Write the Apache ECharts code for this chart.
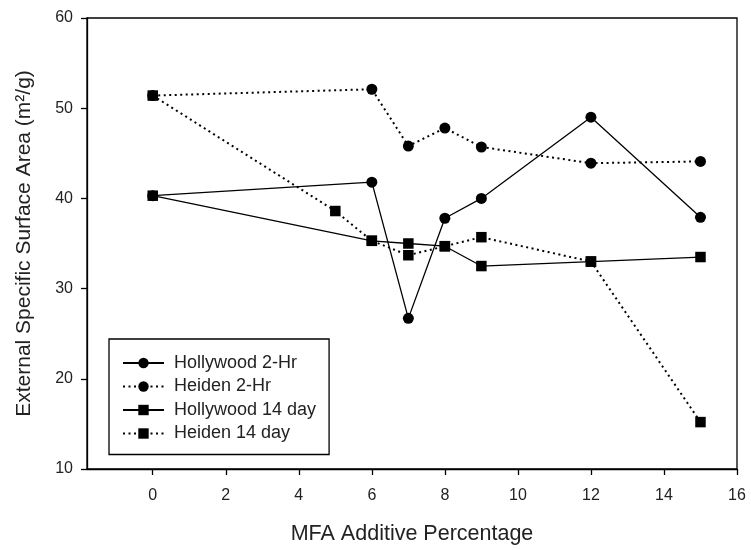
<!DOCTYPE html>
<html>
<head>
<meta charset="utf-8">
<script src="https://cdn.jsdelivr.net/npm/echarts@6/dist/echarts.min.js"></script>
<style>html,body{margin:0;padding:0;background:#fff}#c{width:751px;height:550px}</style>
</head>
<body>
<div id="c"></div>
<script>
const xTicks = [0, 2, 4, 6, 8, 10, 12, 14, 16];
const seriesNames = ['Hollywood 2-Hr', 'Heiden 2-Hr', 'Hollywood 14 day', 'Heiden 14 day'];
const xHollywood2Hr = [0, 6, 7, 8, 9, 12, 15];
const hollywood2Hr = [40.3, 41.8, 26.7, 37.8, 40.0, 49.0, 37.9];
const xHeiden2Hr = [0, 6, 7, 8, 9, 12, 15];
const heiden2Hr = [51.4, 52.1, 45.8, 47.8, 45.7, 43.9, 44.1];
const xHollywood14 = [0, 6, 7, 8, 9, 12, 15];
const hollywood14 = [40.3, 35.3, 35.0, 34.7, 32.5, 33.0, 33.5];
const xHeiden14 = [0, 5, 6, 7, 8, 9, 12, 15];
const heiden14 = [51.4, 38.6, 35.3, 33.7, 34.7, 35.7, 33.0, 15.2];

const FONT = 'Liberation Sans, Arial, sans-serif';
function pairs(xs, ys) { return xs.map((x, i) => [x, ys[i]]); }
function mk(name, xs, ys, symbol, dotted) {
  return {
    name: name, type: 'line', data: pairs(xs, ys),
    symbol: symbol, symbolSize: symbol === 'rect' ? 10.5 : 11,
    itemStyle: { color: '#000' },
    lineStyle: { color: '#000', width: dotted ? 2 : 1.3, type: dotted ? [2, 3.5] : 'solid' },
    emphasis: { disabled: true }, animation: false
  };
}
const chart = echarts.init(document.getElementById('c'), null, { renderer: 'canvas' });
chart.setOption({
  backgroundColor: '#fff',
  animation: false,
  grid: { left: 87, right: 14, top: 18, bottom: 78, show: true, borderColor: '#000', borderWidth: 1.3, backgroundColor: 'transparent' },
  xAxis: {
    type: 'value', min: -1.8, max: 16,
    name: 'MFA Additive Percentage', nameLocation: 'middle', nameGap: 54,
    nameTextStyle: { fontFamily: FONT, fontSize: 21.5, color: '#222' },
    axisLine: { show: true, onZero: false, lineStyle: { color: '#000', width: 1.3 } },
    axisTick: { show: true, length: 6, customValues: xTicks, lineStyle: { color: '#000', width: 1.3 } },
    axisLabel: { customValues: xTicks, margin: 19, fontFamily: FONT, fontSize: 16, color: '#222' },
    splitLine: { show: false }
  },
  yAxis: {
    type: 'value', min: 10, max: 60, interval: 10,
    name: 'External Specific Surface Area (m²/g)', nameLocation: 'middle', nameGap: 52,
    nameTextStyle: { fontFamily: FONT, fontSize: 21, color: '#222' },
    axisLine: { show: true, onZero: false, lineStyle: { color: '#000', width: 1.3 } },
    axisTick: { show: true, length: 6, lineStyle: { color: '#000', width: 1.3 } },
    axisLabel: { margin: 14, fontFamily: FONT, fontSize: 16, color: '#222' },
    splitLine: { show: false }
  },
  legend: {
    data: seriesNames, orient: 'vertical', left: 109, top: 339,
    padding: [15, 13, 12, 13], itemGap: 5.5, itemWidth: 41, itemHeight: 13,
    borderColor: '#000', borderWidth: 1.3, selectedMode: false,
    textStyle: { fontFamily: FONT, fontSize: 18, color: '#222', padding: [0, 0, 0, 5] }
  },
  series: [
    mk(seriesNames[0], xHollywood2Hr, hollywood2Hr, 'circle', false),
    mk(seriesNames[1], xHeiden2Hr, heiden2Hr, 'circle', true),
    mk(seriesNames[2], xHollywood14, hollywood14, 'rect', false),
    mk(seriesNames[3], xHeiden14, heiden14, 'rect', true)
  ]
});
</script>
</body>
</html>
